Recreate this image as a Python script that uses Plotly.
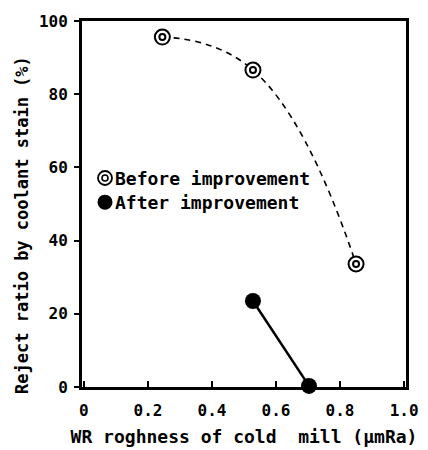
import plotly.graph_objects as go

before_x = [0.245, 0.528, 0.85]
before_y = [95.6, 86.6, 33.6]
after_x = [0.528, 0.703]
after_y = [23.5, 0.3]

x_ticks = [0, 0.2, 0.4, 0.6, 0.8, 1.0]
x_tick_labels = ["0", "0.2", "0.4", "0.6", "0.8", "1.0"]
y_ticks = [0, 20, 40, 60, 80, 100]
y_tick_labels = ["0", "20", "40", "60", "80", "100"]

legend_texts = ["Before improvement", "After improvement"]
legend_rows = [0.571, 0.505]

FONT = "DejaVu Sans Mono, Liberation Mono, Noto Sans CJK JP, monospace"

fig = go.Figure()
fig.add_trace(go.Scatter(
    x=before_x, y=before_y, mode="lines",
    line=dict(color="black", width=1.6, dash="6px,5px", shape="spline", smoothing=1.3),
    showlegend=False, hoverinfo="skip"))
fig.add_trace(go.Scatter(
    x=before_x, y=before_y, mode="markers",
    marker=dict(symbol="circle", size=15, color="white", line=dict(color="black", width=2)),
    showlegend=False))
fig.add_trace(go.Scatter(
    x=before_x, y=before_y, mode="markers",
    marker=dict(symbol="circle-open", size=6, color="black", line=dict(color="black", width=2)),
    showlegend=False))
fig.add_trace(go.Scatter(
    x=after_x, y=after_y, mode="lines+markers",
    line=dict(color="black", width=2.5),
    marker=dict(symbol="circle", size=16, color="black"),
    showlegend=False, cliponaxis=False))

# legend-like key drawn as text plus small circle glyphs
SYM_X = 0.071
for txt, yy in zip(legend_texts, legend_rows):
    fig.add_annotation(x=0.095, y=yy, xref="paper", yref="paper", xanchor="left", yanchor="middle",
                       text=txt, showarrow=False,
                       font=dict(family=FONT, size=18, color="black", weight="bold"))

def glyph(yy, r, fill, lw):
    fig.add_shape(type="circle", xref="paper", yref="paper",
                  xsizemode="pixel", ysizemode="pixel", xanchor=SYM_X, yanchor=yy,
                  x0=-r, x1=r, y0=-r, y1=r,
                  line=dict(color="black", width=lw), fillcolor=fill)

glyph(legend_rows[0], 7, "white", 1.8)
glyph(legend_rows[0], 3, "rgba(0,0,0,0)", 1.6)
glyph(legend_rows[1], 7.5, "black", 0)

# y-axis title placed as annotation (shifted slightly below plot centre as in the reference)
fig.add_annotation(x=-0.185, y=0.443, xref="paper", yref="paper", xanchor="center", yanchor="middle",
                   text="Reject ratio by coolant stain (%)", textangle=-90, showarrow=False,
                   font=dict(family=FONT, size=17, color="black", weight="bold"))

# margins compensate for the 8px default body margin of the html page
fig.update_layout(
    width=428, height=450,
    margin=dict(l=74, r=30, t=13, b=71),
    paper_bgcolor="white", plot_bgcolor="white",
    font=dict(family=FONT, size=16, color="black", weight="bold"),
)
fig.update_xaxes(
    range=[-0.006, 1.006], tickvals=x_ticks, ticktext=x_tick_labels,
    showgrid=False, zeroline=False, automargin=False,
    showline=True, linecolor="black", linewidth=3, mirror=True,
    ticks="inside", ticklen=6, tickwidth=2, tickcolor="black",
    ticklabelstandoff=7,
    tickfont=dict(family=FONT, size=16, weight="bold"),
    title=dict(text="WR roghness of cold  mill (μmRa)",
               font=dict(family=FONT, size=18, weight="bold"), standoff=12),
)
fig.update_yaxes(
    range=[0, 100], tickvals=y_ticks, ticktext=y_tick_labels,
    showgrid=False, zeroline=False, automargin=False,
    showline=True, linecolor="black", linewidth=3, mirror=True,
    ticks="outside", ticklen=5, tickwidth=2, tickcolor="black",
    ticklabelstandoff=3,
    tickfont=dict(family=FONT, size=16, weight="bold"),
)

fig.write_html("out.html")
